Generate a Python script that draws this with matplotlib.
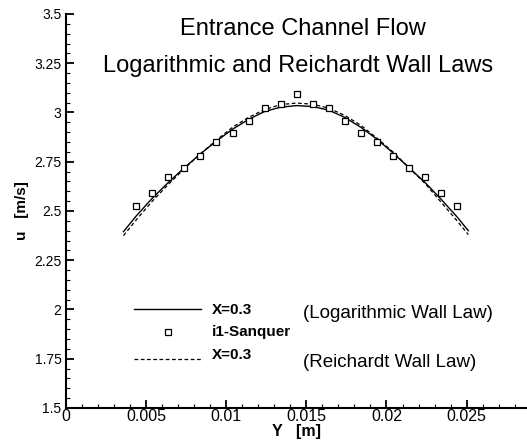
import matplotlib
matplotlib.use("Agg")
import matplotlib.pyplot as plt
from matplotlib.ticker import MultipleLocator

plt.rcParams['font.family'] = ['Liberation Sans', 'DejaVu Sans']

# experimental points (i1-Sanquer)
exp_y = [0.0044, 0.0054, 0.0064, 0.0074, 0.0084, 0.0094, 0.0104, 0.0114, 0.0124, 0.0134, 0.0144,
         0.0154, 0.0164, 0.0174, 0.0184, 0.0194, 0.0204, 0.0214, 0.0224, 0.0234, 0.0244]
exp_u = [2.525, 2.59, 2.674, 2.72, 2.779, 2.85, 2.897, 2.957, 3.021, 3.045, 3.094,
         3.045, 3.021, 2.957, 2.897, 2.85, 2.779, 2.72, 2.674, 2.59, 2.525]

# computed profiles at X=0.3
sim_y = [0.0036, 0.0044, 0.0054, 0.0064, 0.0074, 0.0084, 0.0094, 0.0104, 0.0114, 0.0124, 0.0134,
         0.0144, 0.0154, 0.0164, 0.0174, 0.0184, 0.0194, 0.0204, 0.0214, 0.0224, 0.0234, 0.0244, 0.0251]
log_u = [2.395, 2.475, 2.565, 2.645, 2.72, 2.79, 2.855, 2.915, 2.965, 3.005, 3.027,
         3.035, 3.03, 3.012, 2.975, 2.925, 2.865, 2.795, 2.72, 2.645, 2.56, 2.47, 2.40]
rei_u = [2.375, 2.455, 2.55, 2.635, 2.715, 2.79, 2.86, 2.925, 2.975, 3.015, 3.04,
         3.048, 3.042, 3.022, 2.985, 2.935, 2.87, 2.80, 2.72, 2.64, 2.545, 2.45, 2.38]

fig = plt.figure(figsize=(5.27, 4.44), dpi=100)
ax = fig.add_axes([0.1247, 0.0811, 0.8753, 0.8874])

ax.plot(sim_y, log_u, color='black', lw=1.0)
ax.plot(sim_y, rei_u, color='black', lw=0.9, dashes=(3, 2))
ax.plot(exp_y, exp_u, ls='none', marker='s', ms=5, mfc='white', mec='black', mew=0.9)

ax.set_xlim(0, 0.02876)
ax.set_ylim(1.5, 3.5)
ax.xaxis.set_minor_locator(MultipleLocator(0.001))
ax.yaxis.set_minor_locator(MultipleLocator(0.05))
ax.set_xticks([0, 0.005, 0.01, 0.015, 0.02, 0.025])
ax.set_xticklabels(['0', '0.005', '0.01', '0.015', '0.02', '0.025'])
ax.set_yticks([1.5, 1.75, 2, 2.25, 2.5, 2.75, 3, 3.25, 3.5])
ax.set_yticklabels(['1.5', '1.75', '2', '2.25', '2.5', '2.75', '3', '3.25', '3.5'])

for s in ['top', 'right']:
    ax.spines[s].set_visible(False)
for s in ['left', 'bottom']:
    ax.spines[s].set_linewidth(1.5)
ax.tick_params(which='major', direction='in', length=6, width=1.3, pad=3)
ax.tick_params(axis='x', which='major', labelsize=11.5, pad=1)
ax.tick_params(axis='y', which='major', labelsize=10)
ax.tick_params(which='minor', direction='in', length=3, width=0.8)

ax.set_xlabel('Y   [m]', fontsize=11.5, fontweight='bold', labelpad=0)
ax.set_ylabel('u   [m/s]', fontsize=11, fontweight='bold', labelpad=4)

ax.text(0.01479, 3.393, 'Entrance Channel Flow', fontsize=17, ha='center', va='baseline')
ax.text(0.01446, 3.207, 'Logarithmic and Reichardt Wall Laws', fontsize=17, ha='center', va='baseline')

# legend drawn by hand
ax.plot([0.00425, 0.00845], [2.0, 2.0], color='black', lw=1.0)
ax.plot([0.00635], [1.885], ls='none', marker='s', ms=4, mfc='white', mec='black', mew=0.9)
ax.plot([0.00425, 0.00845], [1.75, 1.75], color='black', lw=0.9, dashes=(3, 2))
ax.text(0.0091, 1.975, 'X=0.3', fontsize=11, fontweight='bold', va='baseline')
ax.text(0.0091, 1.865, 'i1-Sanquer', fontsize=11, fontweight='bold', va='baseline')
ax.text(0.0091, 1.747, 'X=0.3', fontsize=11, fontweight='bold', va='baseline')
ax.text(0.01479, 1.957, '(Logarithmic Wall Law)', fontsize=13.5, va='baseline')
ax.text(0.01479, 1.710, '(Reichardt Wall Law)', fontsize=13.5, va='baseline')

fig.savefig('out.png', dpi=100)
